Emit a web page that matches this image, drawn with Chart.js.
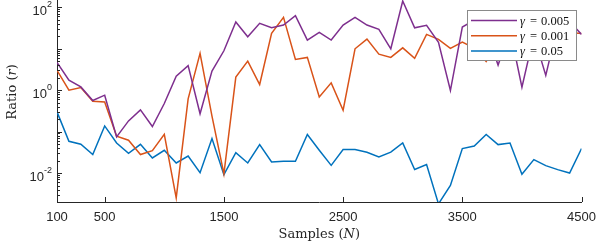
<!DOCTYPE html>
<html>
<head>
<meta charset="utf-8">
<script src="https://cdn.jsdelivr.net/npm/chart.js@4.4.1/dist/chart.umd.min.js"></script>
<style>
  html, body { margin: 0; padding: 0; background: #fff; }
  #wrap { width: 604px; height: 248px; position: relative; }
</style>
</head>
<body>
<div id="wrap"><canvas id="chart"></canvas></div>
<script>
// sample sizes 100..4500, step 100
const samples = [
  100, 200, 300, 400, 500, 600, 700, 800, 900, 1000,
  1100, 1200, 1300, 1400, 1500, 1600, 1700, 1800, 1900, 2000,
  2100, 2200, 2300, 2400, 2500, 2600, 2700, 2800, 2900, 3000,
  3100, 3200, 3300, 3400, 3500, 3600, 3700, 3800, 3900, 4000,
  4100, 4200, 4300, 4400, 4500
];

// gamma = 0.005 (purple)
const ratioG005 = [
  4.68, 1.75, 1.20, 0.563, 0.757, 0.0743, 0.181, 0.334, 0.133, 0.477,
  2.18, 3.91, 0.270, 2.88, 8.92, 44.1, 19.4, 41.0, 32.1, 37.3,
  62.6, 16.2, 24.9, 16.2, 37.3, 57.3, 37.3, 29.4, 9.97, 142,
  31.9, 36.7, 14.2, 0.98, 33.4, 49, 28, 4.03, 28, 1.18,
  21, 2.27, 37, 45.4, 22.2
];

// gamma = 0.001 (orange)
const ratioG001 = [
  3.0, 1.0, 1.16, 0.542, 0.521, 0.0772, 0.0618, 0.0279, 0.0348, 0.0863,
  0.00251, 0.616, 7.72, 0.235, 0.00957, 2.06, 5.03, 1.37, 23.5, 57.3,
  5.53, 6.18, 0.689, 1.50, 0.328, 9.97, 17.1, 7.42, 6.18, 10.5,
  5.84, 22.2, 16.8, 10.2, 14.5, 10.4, 4.89, 14.5, 18.1, 12.3,
  18, 14.5, 20.2, 24.6, 23.3
];

// gamma = 0.05 (blue)
const ratioG05 = [
  0.299, 0.0584, 0.0494, 0.0279, 0.137, 0.0532, 0.0299, 0.0494, 0.0231, 0.0354,
  0.0175, 0.0258, 0.0102, 0.0679, 0.00915, 0.0311, 0.0175, 0.0486, 0.0185, 0.0192,
  0.0192, 0.0849, 0.0354, 0.0153, 0.0368, 0.0368, 0.0317, 0.0244, 0.0320, 0.0532,
  0.0122, 0.0160, 0.0018, 0.00504, 0.0389, 0.0450, 0.0849, 0.0486, 0.0532, 0.0093,
  0.0211, 0.0151, 0.0121, 0.0100, 0.0389
];

const seriesLabels = ["0.005", "0.001", "0.05"];
const xTicks = [100, 500, 1500, 2500, 3500, 4500];
const yTickExponents = [-2, 0, 2];

const axisColor = "#262626";

function points(arr) {
  return samples.map(function (n, i) { return { x: n, y: arr[i] }; });
}

// tick marks (inward), y labels with exponent, axis titles, legend box
const decorPlugin = {
  id: "decor",
  afterDraw: function (chart) {
    const ctx = chart.ctx;
    const area = chart.chartArea;
    const xs = chart.scales.x;
    const ys = chart.scales.y;
    ctx.save();
    ctx.strokeStyle = axisColor;
    ctx.lineWidth = 1;

    // x ticks
    xTicks.forEach(function (v) {
      const px = Math.round(xs.getPixelForValue(v)) + 0.5;
      ctx.beginPath();
      ctx.moveTo(px, area.bottom);
      ctx.lineTo(px, area.bottom - 5);
      ctx.stroke();
    });

    // y ticks, major and minor
    for (let e = -3; e <= 2; e++) {
      for (let m = 1; m <= 9; m++) {
        const v = m * Math.pow(10, e);
        if (v < ys.min || v > ys.max) continue;
        const py = Math.round(ys.getPixelForValue(v)) + 0.5;
        const len = m === 1 ? 5 : 3;
        ctx.beginPath();
        ctx.moveTo(area.left, py);
        ctx.lineTo(area.left + len, py);
        ctx.stroke();
      }
    }

    // y labels 10^n
    ctx.fillStyle = axisColor;
    ctx.textBaseline = "middle";
    yTickExponents.forEach(function (e) {
      const py = ys.getPixelForValue(Math.pow(10, e));
      const expText = String(e);
      ctx.font = "9px 'Liberation Sans'";
      const ew = ctx.measureText(expText).width;
      ctx.font = "13px 'Liberation Sans'";
      const bw = ctx.measureText("10").width;
      const right = area.left - 5;
      ctx.textAlign = "left";
      ctx.fillText("10", right - ew - bw, py + 4);
      ctx.font = "9px 'Liberation Sans'";
      ctx.fillText(expText, right - ew, py - 3);
    });

    // x title: Samples (N)
    ctx.textBaseline = "alphabetic";
    const serif = "'DejaVu Serif'";
    const partsX = [
      { t: "Samples (", f: "13px " + serif },
      { t: "N", f: "italic 13px " + serif },
      { t: ")", f: "13px " + serif }
    ];
    drawParts(ctx, partsX, (area.left + area.right) / 2, 238);

    // y title: Ratio (r)
    ctx.save();
    ctx.translate(16, 92);
    ctx.rotate(-Math.PI / 2);
    const partsY = [
      { t: "Ratio (", f: "13px " + serif },
      { t: "r", f: "italic 13px " + serif },
      { t: ")", f: "13px " + serif }
    ];
    drawParts(ctx, partsY, 0, 0);
    ctx.restore();

    // legend
    const lx = 467.5, ly = 10.5, lw = 109, lh = 50;
    ctx.fillStyle = "#fff";
    ctx.fillRect(lx, ly, lw, lh);
    ctx.strokeStyle = "#8a8a8a";
    ctx.strokeRect(lx, ly, lw, lh);
    chart.data.datasets.forEach(function (ds, i) {
      const ry = 20.5 + i * 15.3;
      ctx.strokeStyle = ds.borderColor;
      ctx.lineWidth = 1.5;
      ctx.beginPath();
      ctx.moveTo(471, ry);
      ctx.lineTo(517, ry);
      ctx.stroke();
      ctx.fillStyle = "#111";
      ctx.textBaseline = "middle";
      ctx.textAlign = "left";
      ctx.font = "italic 12.5px 'Liberation Serif'";
      ctx.fillText("\u03b3", 520, ry + 1);
      ctx.font = "12.5px 'Liberation Serif'";
      ctx.fillText("=", 530, ry + 1);
      ctx.fillText(seriesLabels[i], 541, ry + 1);
    });
    ctx.restore();
  }
};

// draws mixed-font text centred at (cx, y)
function drawParts(ctx, parts, cx, y) {
  let total = 0;
  parts.forEach(function (p) {
    ctx.font = p.f;
    p.w = ctx.measureText(p.t).width;
    total += p.w;
  });
  let x = cx - total / 2;
  ctx.textAlign = "left";
  ctx.fillStyle = "#262626";
  parts.forEach(function (p) {
    ctx.font = p.f;
    ctx.fillText(p.t, x, y);
    x += p.w;
  });
}

new Chart(document.getElementById("chart"), {
  type: "line",
  data: {
    datasets: [
      {
        label: "\u03b3 = " + seriesLabels[0],
        data: points(ratioG005),
        borderColor: "#7E2F8E",
        borderWidth: 1.5,
        pointRadius: 0,
        tension: 0,
        fill: false
      },
      {
        label: "\u03b3 = " + seriesLabels[1],
        data: points(ratioG001),
        borderColor: "#D95319",
        borderWidth: 1.5,
        pointRadius: 0,
        tension: 0,
        fill: false
      },
      {
        label: "\u03b3 = " + seriesLabels[2],
        data: points(ratioG05),
        borderColor: "#0072BD",
        borderWidth: 1.5,
        pointRadius: 0,
        tension: 0,
        fill: false
      }
    ]
  },
  options: {
    responsive: true,
    maintainAspectRatio: false,
    animation: false,
    layout: { padding: { left: 0, right: 15, top: 0, bottom: 0 } },
    plugins: {
      legend: { display: false },
      tooltip: { enabled: false }
    },
    scales: {
      x: {
        type: "linear",
        min: 100,
        max: 4500,
        afterBuildTicks: function (scale) {
          scale.ticks = xTicks.map(function (v) { return { value: v }; });
        },
        afterFit: function (scale) { scale.height = 46; },
        grid: { display: false, drawTicks: false },
        border: { display: true, color: axisColor, width: 1 },
        ticks: {
          color: axisColor,
          font: { family: "'Liberation Sans'", size: 13 },
          padding: 8,
          maxRotation: 0,
          autoSkip: false,
          callback: function (v) { return String(v); }
        }
      },
      y: {
        type: "logarithmic",
        min: 0.002,
        max: 150,
        afterFit: function (scale) { scale.width = 57; },
        grid: { display: false },
        border: { display: true, color: axisColor, width: 1 },
        ticks: { display: false }
      }
    }
  },
  plugins: [decorPlugin]
});
</script>
</body>
</html>
